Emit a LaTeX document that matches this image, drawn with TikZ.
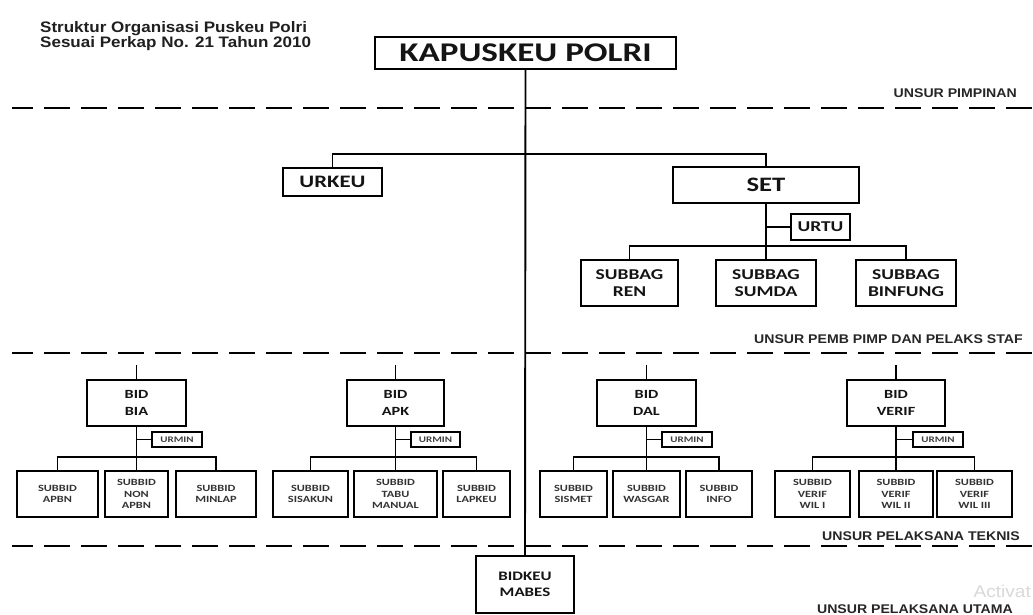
\documentclass[tikz,border=0pt]{standalone}
\usepackage{fontspec}
\setmainfont{Carlito}
\newfontfamily\bxfont{Carlito}[FakeStretch=1.3]
\newfontfamily\lblfont{Liberation Sans}[FakeStretch=1.12]
\newcommand\bxsz[2]{\bxfont\bfseries\fontsize{#1}{#2}\selectfont}
\newcommand\lbsz[2]{\lblfont\bfseries\fontsize{#1}{#2}\selectfont}
\begin{document}
\begin{tikzpicture}[x=1pt,y=-1pt,
  bx/.style={draw=black, line width=2.3pt, inner sep=0pt, align=center, text=black!92, fill=white},
  big/.style={bx, font=\bxsz{27}{30}},
  mid/.style={bx, font=\bxsz{15}{17}, minimum width=100pt, minimum height=46pt},
  bid/.style={bx, font=\bxsz{12.5}{17}, minimum width=98pt, minimum height=46pt},
  urmin/.style={bx, line width=2pt, font=\bxsz{8.5}{9}, minimum width=50pt, minimum height=15pt, text=black!75},
  sub/.style={bx, line width=2.5pt, font=\bxsz{9.5}{11.5}, minimum height=46pt, text=black!80},
  ln/.style={line width=1.9pt},
  sep/.style={line width=2.6pt, dash pattern=on 26pt off 11pt, dash phase=5pt},
  lbl/.style={font=\lbsz{12.6}{14}, text=black!85, inner sep=0pt, anchor=base east}
]
\useasboundingbox (0,0) rectangle (1033,614);
\fill[white] (0,0) rectangle (1033,614);

% separators
\draw[sep] (12,108) -- (1040,108);
\draw[sep] (12,353) -- (1040,353);
\draw[sep] (12,546) -- (1040,546);

% title and section labels
\node[anchor=north west, align=left, inner sep=0pt, text=black!88,
      font=\lbsz{15.2}{15.5}] (title) at (40,21)
  {Struktur Organisasi Puskeu Polri\\Sesuai Perkap No. 21 Tahun 2010};
\node[lbl] (l1) at (1017,97) {UNSUR PIMPINAN};
\node[lbl] (l2) at (1023,343) {UNSUR PEMB PIMP DAN PELAKS STAF};
\node[lbl] (l3) at (1020,540) {UNSUR PELAKSANA TEKNIS};
\node[lbl] (l4) at (1013,613) {UNSUR PELAKSANA UTAMA};
\node[anchor=base east, inner sep=0pt, text=black!15,
      font=\lblfont\fontsize{17}{17}\selectfont] (wm) at (1031,597) {Activat};

% top
\node[big, minimum width=301pt, minimum height=32pt] (kap) at (525.5,53) {KAPUSKEU POLRI};
\node[bx, font=\bxsz{17.5}{20}, minimum width=99pt, minimum height=28pt] (urkeu) at (332.5,182) {URKEU};
\node[bx, font=\bxsz{20.5}{22}, minimum width=186pt, minimum height=36pt] (set) at (766,185) {SET};
\node[bx, font=\bxsz{15}{17}, minimum width=59pt, minimum height=26pt] (urtu) at (820.5,227) {URTU};
\node[mid, minimum width=97pt] (ren) at (629.5,283) {SUBBAG\\REN};
\node[mid] (sumda) at (766,283) {SUBBAG\\SUMDA};
\node[mid] (binfung) at (906,283) {SUBBAG\\BINFUNG};
\node[bx, font=\bxsz{13}{16}, minimum width=98pt, minimum height=57pt] (bidkeu) at (525,584.5) {BIDKEU\\MABES};

% BID boxes
\node[bid, minimum width=99pt] (bia) at (136.5,403) {BID\\BIA};
\node[bid, minimum width=97pt] (apk) at (395.5,403) {BID\\APK};
\node[bid, minimum width=99pt] (dal) at (646.5,403) {BID\\DAL};
\node[bid] (verif) at (896,403) {BID\\VERIF};

\node[urmin] (ub) at (177,439.5) {URMIN};
\node[urmin, minimum width=49pt] (ua) at (435.5,439.5) {URMIN};
\node[urmin] (ud) at (687,439.5) {URMIN};
\node[urmin] (uv) at (938,439.5) {URMIN};

% subbid row
\node[sub, minimum width=81pt] (apbn) at (57.5,494) {SUBBID\\APBN};
\node[sub, minimum width=63pt] (nonapbn) at (136.5,494) {SUBBID\\NON\\APBN};
\node[sub, minimum width=80pt] (minlap) at (216,494) {SUBBID\\MINLAP};
\node[sub, minimum width=75pt] (sisakun) at (310.5,494) {SUBBID\\SISAKUN};
\node[sub, minimum width=83pt] (tabu) at (395.5,494) {SUBBID\\TABU\\MANUAL};
\node[sub, minimum width=67pt] (lapkeu) at (476.5,494) {SUBBID\\LAPKEU};
\node[sub, minimum width=67pt] (sismet) at (573.5,494) {SUBBID\\SISMET};
\node[sub, minimum width=67pt] (wasgar) at (646.5,494) {SUBBID\\WASGAR};
\node[sub, minimum width=66pt] (info) at (719,494) {SUBBID\\INFO};
\node[sub, minimum width=75pt] (wil1) at (812.5,494) {SUBBID\\VERIF\\WIL I};
\node[sub, minimum width=74pt] (wil2) at (896,494) {SUBBID\\VERIF\\WIL II};
\node[sub, minimum width=75pt] (wil3) at (974.5,494) {SUBBID\\VERIF\\WIL III};

% stubs above BID boxes
\coordinate (sb) at (136.5,365);
\coordinate (sa) at (395.5,365);
\coordinate (sd) at (646.5,365);
\coordinate (sv) at (896,365);

% connectors
\draw[ln] (kap.south) -- (bidkeu.north);
\draw[ln] (urkeu.north) -- ++(0,-13) -| (set.north);
\draw[ln] (set.south) -- (sumda.north);
\draw[ln] (set.south |- urtu.west) -- (urtu.west);
\draw[ln] (ren.north) -- ++(0,-13) -| (binfung.north);

\draw[ln] (sb) -- (bia.north);
\draw[ln] (sa) -- (apk.north);
\draw[ln] (sd) -- (dal.north);
\draw[ln] (sv) -- (verif.north);

\draw[ln] (bia.south) -- (nonapbn.north);
\draw[ln] (bia.south |- ub.west) -- (ub.west);
\draw[ln] (apbn.north) -- ++(0,-13) -| (minlap.north);

\draw[ln] (apk.south) -- (tabu.north);
\draw[ln] (apk.south |- ua.west) -- (ua.west);
\draw[ln] (sisakun.north) -- ++(0,-13) -| (lapkeu.north);

\draw[ln] (dal.south) -- (wasgar.north);
\draw[ln] (dal.south |- ud.west) -- (ud.west);
\draw[ln] (sismet.north) -- ++(0,-13) -| (info.north);

\draw[ln] (verif.south) -- (wil2.north);
\draw[ln] (verif.south |- uv.west) -- (uv.west);
\draw[ln] (wil1.north) -- ++(0,-13) -| (wil3.north);
\end{tikzpicture}
\end{document}
